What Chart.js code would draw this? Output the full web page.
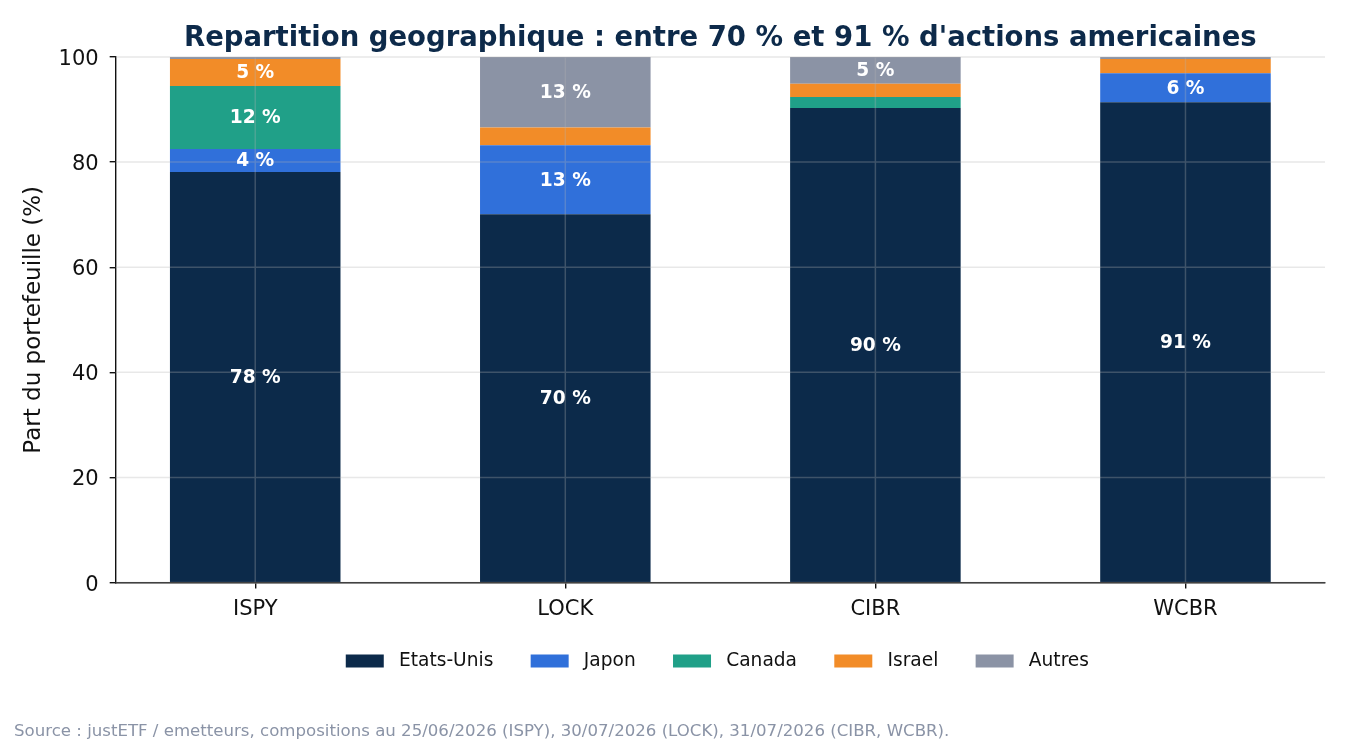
<!DOCTYPE html>
<html>
<head>
<meta charset="utf-8">
<script src="https://cdn.jsdelivr.net/npm/chart.js@4.4.0/dist/chart.umd.min.js"></script>
<style>
  html, body { margin: 0; padding: 0; background: #fff; }
  #wrap { width: 1350px; height: 750px; }
</style>
</head>
<body>
<div id="wrap"><canvas id="geoChart"></canvas></div>
<script>
// --- data ---
const funds = ['ISPY', 'LOCK', 'CIBR', 'WCBR'];
const etatsUnis = [78.1, 70.1, 90.3, 91.4];
const japon = [4.4, 13.1, 0, 5.5];
const canada = [12.0, 0, 2.1, 0];
const israel = [5.1, 3.4, 2.5, 2.7];
const autres = [0.4, 13.4, 5.1, 0.4];
const yTicks = [0, 20, 40, 60, 80, 100];

Chart.defaults.font.family = '"DejaVu Sans", sans-serif';

// bars sit on a linear x axis so the side margins match the original
const toPoints = arr => arr.map((v, i) => ({ x: i, y: v }));

function series(label, values, color) {
    return {
        label: ' ' + label + ' ', // spaces widen the legend gaps a little
        data: toPoints(values),
        backgroundColor: color,
        borderWidth: 0,
        barPercentage: 0.55,
        categoryPercentage: 1
    };
}

// grid on top of the bars (semi transparent), then the value labels
const overlay = {
    id: 'overlay',
    afterDatasetsDraw(chart) {
        const { ctx, chartArea: a, scales: { x, y } } = chart;
        ctx.save();
        ctx.strokeStyle = 'rgba(180,180,180,0.3)';
        ctx.lineWidth = 1.5;
        ctx.beginPath();
        yTicks.forEach(v => {
            const py = y.getPixelForValue(v);
            ctx.moveTo(a.left, py);
            ctx.lineTo(a.right, py);
        });
        funds.forEach((f, i) => {
            const px = x.getPixelForValue(i);
            ctx.moveTo(px, a.top);
            ctx.lineTo(px, a.bottom);
        });
        ctx.stroke();

        ctx.fillStyle = '#ffffff';
        ctx.font = 'bold 18.6px "DejaVu Sans", sans-serif';
        ctx.textAlign = 'center';
        ctx.textBaseline = 'middle';
        chart.data.datasets.forEach((ds, di) => {
            chart.getDatasetMeta(di).data.forEach((bar, i) => {
                const v = ds.data[i].y;
                if (v < 4) return; // small slices stay unlabeled
                ctx.fillText(Math.round(v) + ' %', bar.x, (bar.y + bar.base) / 2 + 1);
            });
        });
        ctx.restore();
    }
};

const ctx = document.getElementById('geoChart').getContext('2d');

new Chart(ctx, {
    type: 'bar',
    data: {
        datasets: [
            series('Etats-Unis', etatsUnis, '#0c2a4a'),
            series('Japon', japon, '#3070da'),
            series('Canada', canada, '#20a088'),
            series('Israel', israel, '#f28c28'),
            series('Autres', autres, '#8b93a5')
        ]
    },
    options: {
        responsive: true,
        maintainAspectRatio: false,
        animation: false,
        layout: { padding: { left: 14, right: 25, top: 8, bottom: 8 } },
        plugins: {
            legend: {
                position: 'bottom',
                fullSize: false,
                labels: {
                    boxWidth: 38,
                    boxHeight: 13,
                    padding: 31.4,
                    color: '#111',
                    font: { size: 18.6 }
                }
            },
            title: {
                display: true,
                fullSize: false,
                text: "Repartition geographique : entre 70 % et 91 % d'actions americaines",
                color: '#0d2a4a',
                font: { size: 27.5, weight: 'bold' },
                padding: { top: 14, bottom: 2 }
            },
            subtitle: {
                display: true,
                position: 'bottom',
                align: 'start',
                text: 'Source : justETF / emetteurs, compositions au 25/06/2026 (ISPY), 30/07/2026 (LOCK), 31/07/2026 (CIBR, WCBR).',
                color: '#8a93a6',
                font: { size: 16.6 },
                padding: { top: 41.7, bottom: 0 }
            },
            tooltip: { enabled: false }
        },
        scales: {
            x: {
                type: 'linear',
                min: -0.45,
                max: 3.45,
                offset: false,
                stacked: true,
                afterBuildTicks: axis => { axis.ticks = funds.map((f, i) => ({ value: i })); },
                afterFit: axis => { axis.height -= 9.4; },
                ticks: {
                    callback: v => funds[v],
                    color: '#111',
                    font: { size: 21 },
                    padding: 8
                },
                grid: { offset: false, drawOnChartArea: false, color: '#111', tickLength: 6, lineWidth: 1.4 },
                border: { color: '#111', width: 1.4 }
            },
            y: {
                stacked: true,
                min: 0,
                max: 100,
                afterBuildTicks: axis => { axis.ticks = yTicks.map(v => ({ value: v })); },
                ticks: {
                    color: '#111',
                    font: { size: 21 },
                    padding: 11,
                    labelOffset: 2.5
                },
                title: {
                    display: true,
                    text: 'Part du portefeuille (%)',
                    color: '#111',
                    font: { size: 23 },
                    padding: { top: 6, bottom: 0 }
                },
                grid: { drawOnChartArea: false, color: '#111', tickLength: 6, lineWidth: 1.4 },
                border: { color: '#111', width: 1.4 }
            }
        }
    },
    plugins: [overlay]
});
</script>
</body>
</html>
